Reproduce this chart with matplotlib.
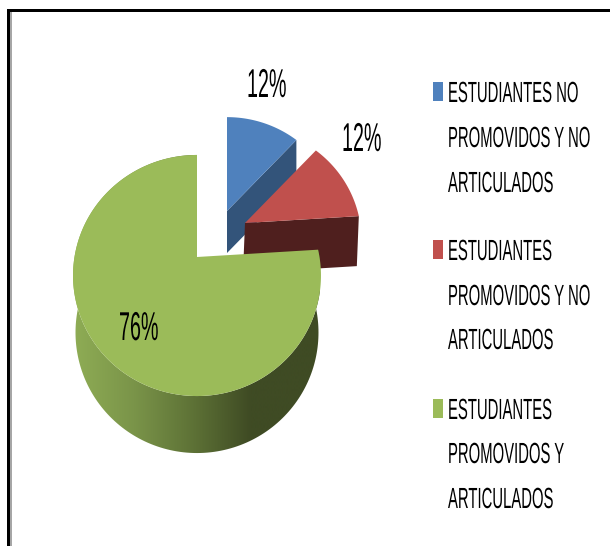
import matplotlib
matplotlib.use("Agg")
import matplotlib.pyplot as plt
from matplotlib.colors import LinearSegmentedColormap
from matplotlib.patches import Polygon, Rectangle
from matplotlib.patheffects import AbstractPathEffect
from matplotlib.transforms import Affine2D
import numpy as np

plt.rcParams["font.family"] = ["Liberation Sans"]

labels = [
    "ESTUDIANTES NO\nPROMOVIDOS Y NO\nARTICULADOS",
    "ESTUDIANTES\nPROMOVIDOS Y NO\nARTICULADOS",
    "ESTUDIANTES\nPROMOVIDOS Y\nARTICULADOS",
]
values = [12, 12, 76]
top_colors = ["#4f81bd", "#c0504d", "#9bbb59"]
side_colors = ["#33547a", "#4f1f1e"]
green_side_x = [0.0, 0.25, 0.5, 0.72, 1.0]
green_side_colors = ["#8fad55", "#7a9449", "#5c7035", "#3f4b24", "#3f4b24"]


class Tall(AbstractPathEffect):
    # the reference is squashed sideways, so the glyphs are stretched upward
    def __init__(self, sy):
        super().__init__()
        self.sy = sy

    def draw_path(self, renderer, gc, tpath, affine, rgbFace=None):
        renderer.draw_path(gc, tpath, Affine2D().scale(1, self.sy) + affine, rgbFace)


def project(theta, cx, cy, scale=1.0):
    # clockwise degrees from 12 o'clock, circle seen in perspective
    th = np.radians(theta)
    k = 0.1535
    w = 1 + k * np.cos(th)
    return (cx + scale * 122.5 * np.sin(th) / w,
            cy - scale * 117.7 * np.cos(th) / w)


fig = plt.figure(figsize=(6.1, 5.46), dpi=100)
ax = fig.add_axes([0, 0, 1, 1])
ax.set_xlim(0, 610)
ax.set_ylim(546, 0)
ax.axis("off")

# frame
ax.add_patch(Rectangle((7, 9), 603, 2.5, color="black", lw=0))
ax.add_patch(Rectangle((7, 9), 2.5, 537, color="black", lw=0))
ax.add_patch(Rectangle((9.5, 11.5), 2, 535, color="#a6a6a6", lw=0))

edges = np.cumsum([0] + values) * 3.6

# blue slice
t = np.linspace(edges[0], edges[1], 40)
bx, by = project(t, 227, 211, 0.92)
ax.add_patch(Polygon([(227, 211), (bx[-1], by[-1]), (bx[-1], by[-1] + 42), (227, 253)],
                     color=side_colors[0], lw=0))
ax.add_patch(Polygon(np.r_[[(227, 211)], np.c_[bx, by]], color=top_colors[0], lw=0))

# red slice
t = np.linspace(edges[1], edges[2], 40)
rx, ry = project(t, 245, 223, 0.94)
ax.add_patch(Polygon([(245, 223), (rx[-1], ry[-1]), (rx[-1] - 2, ry[-1] + 50), (243, 273)],
                     color=side_colors[1], lw=0))
ax.add_patch(Polygon(np.r_[[(245, 223)], np.c_[rx, ry]], color=top_colors[1], lw=0))

# green slice, side first with its gradient
t = np.linspace(edges[2], edges[3], 200)
gx, gy = project(t, 197, 257)
lowx = 197 + (gx - 197) * 0.98
lowy = gy + 57
side = Polygon(np.r_[np.c_[gx, gy], np.c_[lowx, lowy][::-1]], fc="none", lw=0)
ax.add_patch(side)
cmap = LinearSegmentedColormap.from_list("side", list(zip(green_side_x, green_side_colors)))
grad = ax.imshow(np.linspace(0, 1, 256)[None, :], cmap=cmap, aspect="auto",
                 extent=(72, 320, 546, 0), interpolation="bilinear", zorder=1)
grad.set_clip_path(side)
ax.set_xlim(0, 610)
ax.set_ylim(546, 0)
ax.add_patch(Polygon(np.r_[[(197, 257)], np.c_[gx, gy]], color=top_colors[2], lw=0, zorder=2))

# percent labels
pct_pos = [(247, 97), (342, 151), (119, 340)]
for v, (x, y) in zip(values, pct_pos):
    ax.text(x, y, f"{v}%", fontsize=14.2, color="black", ha="left", va="baseline",
            zorder=3, path_effects=[Tall(2.04)])

# legend
swatch_y = [82, 240, 399]
line_y = [[102, 147, 192], [260, 305, 349], [419, 463, 508]]
for lab, col, y0, rows in zip(labels, top_colors, swatch_y, line_y):
    ax.add_patch(Rectangle((433, y0), 10, 19, color=col, lw=0))
    for line, y in zip(lab.split("\n"), rows):
        ax.text(448, y, line, fontsize=10.7, color="black", ha="left", va="baseline",
                path_effects=[Tall(1.96)])

plt.savefig("out.png", dpi=100)
plt.close()
